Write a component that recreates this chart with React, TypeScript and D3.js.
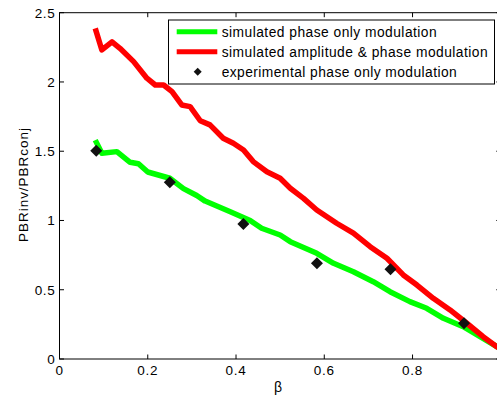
import React from "react";
import * as d3 from "d3";

const simPhaseX = [0.081, 0.096, 0.13, 0.16, 0.179, 0.2, 0.25, 0.281, 0.311, 0.33, 0.387, 0.432, 0.458, 0.5, 0.523, 0.583, 0.621, 0.666, 0.711, 0.749, 0.794, 0.832, 0.87, 0.915, 0.953, 0.991, 1.0];
const simPhaseY = [1.58, 1.485, 1.497, 1.42, 1.41, 1.35, 1.305, 1.23, 1.18, 1.14, 1.063, 1.0, 0.944, 0.895, 0.847, 0.763, 0.691, 0.63, 0.558, 0.486, 0.414, 0.366, 0.294, 0.233, 0.161, 0.089, 0.075];

const simAmpX = [0.081, 0.096, 0.119, 0.137, 0.168, 0.198, 0.217, 0.236, 0.255, 0.277, 0.296, 0.319, 0.341, 0.371, 0.394, 0.417, 0.439, 0.47, 0.5, 0.523, 0.553, 0.583, 0.628, 0.666, 0.704, 0.742, 0.779, 0.81, 0.847, 0.885, 0.923, 0.96, 0.991, 1.0];
const simAmpY = [2.387, 2.231, 2.29, 2.243, 2.147, 2.027, 1.978, 1.978, 1.93, 1.834, 1.822, 1.72, 1.69, 1.594, 1.557, 1.509, 1.425, 1.352, 1.305, 1.233, 1.16, 1.076, 0.98, 0.908, 0.811, 0.727, 0.607, 0.534, 0.438, 0.354, 0.258, 0.161, 0.089, 0.07];

const expX = [1 / 12, 3 / 12, 5 / 12, 7 / 12, 9 / 12, 11 / 12];
const expY = [1.504, 1.276, 0.975, 0.691, 0.648, 0.258];

const xTicks = [0, 0.2, 0.4, 0.6, 0.8, 1];
const yTicks = [0, 0.5, 1, 1.5, 2, 2.5];

const legendLabels = [
  "simulated phase only modulation",
  "simulated amplitude & phase modulation",
  "experimental phase only modulation",
];
const legendWidths = [215, 266, 235];

const W = 497;
const H = 398;
const L = 59.5;
const R = 500.8;
const T = 12.7;
const B = 359;

export default function App() {
  const x = d3.scaleLinear().domain([0, 1]).range([L, R]);
  const y = d3.scaleLinear().domain([0, 2.5]).range([B, T]);
  const line = d3
    .line<[number, number]>()
    .x((d) => x(d[0]))
    .y((d) => y(d[1]));
  const green = line(simPhaseX.map((v, i) => [v, simPhaseY[i]] as [number, number]))!;
  const red = line(simAmpX.map((v, i) => [v, simAmpY[i]] as [number, number]))!;
  const font = "'Liberation Sans', Arial, sans-serif";
  const diamond = (cx: number, cy: number, r: number) =>
    `M${cx},${cy - r}L${cx + r},${cy}L${cx},${cy + r}L${cx - r},${cy}Z`;
  const fmt = (v: number) => String(v);
  const tl = 4.5;
  return (
    <svg
      width={W}
      height={H}
      style={{ position: "absolute", left: 0, top: 0, background: "#fff" }}
      fontFamily={font}
    >
      <rect x={0} y={0} width={W} height={H} fill="#fff" />
      <path d={green} fill="none" stroke="#00ff00" strokeWidth={5.5} strokeLinejoin="round" />
      <path d={red} fill="none" stroke="#ff0000" strokeWidth={5.5} strokeLinejoin="round" />
      {expX.map((v, i) => (
        <path key={i} d={diamond(x(v), y(expY[i]), 6)} fill="#111" />
      ))}
      <rect x={L} y={T} width={R - L} height={B - T} fill="none" stroke="#000" strokeWidth={1} />
      {xTicks.map((t) => (
        <g key={"x" + t}>
          <line x1={x(t)} x2={x(t)} y1={B} y2={B - tl} stroke="#000" />
          <line x1={x(t)} x2={x(t)} y1={T} y2={T + tl} stroke="#000" />
          <text x={x(t)} y={B + 16.3} fontSize={13.5} letterSpacing={0.7} textAnchor="middle" fill="#000">
            {fmt(t)}
          </text>
        </g>
      ))}
      {yTicks.map((t) => (
        <g key={"y" + t}>
          <line x1={L} x2={L + tl} y1={y(t)} y2={y(t)} stroke="#000" />
          <line x1={R} x2={R - tl} y1={y(t)} y2={y(t)} stroke="#000" />
          <text x={L - 4} y={y(t) + 4.8} fontSize={13.5} letterSpacing={0.7} textAnchor="end" fill="#000">
            {fmt(t)}
          </text>
        </g>
      ))}
      <text x={278} y={392} fontSize={14} textAnchor="middle" fill="#000">
        β
      </text>
      <text
        transform={`translate(28,185) rotate(-90)`}
        fontSize={13.5}
        textAnchor="middle"
        textLength={114}
        lengthAdjust="spacing"
        fill="#000"
      >
        PBRinv/PBRconj
      </text>
      <rect x={168.5} y={20} width={326} height={64} fill="#fff" stroke="#000" strokeWidth={1} />
      <line x1={176.7} x2={217.3} y1={31.7} y2={31.7} stroke="#00ff00" strokeWidth={5} />
      <line x1={176.7} x2={217.3} y1={51.7} y2={51.7} stroke="#ff0000" strokeWidth={5} />
      <path d={diamond(197.7, 71.7, 4)} fill="#111" />
      {legendLabels.map((s, i) => (
        <text
          key={s}
          x={221.7}
          y={36.6 + i * 20}
          fontSize={13.8}
          textLength={legendWidths[i]}
          lengthAdjust="spacing"
          fill="#000"
        >
          {s}
        </text>
      ))}
    </svg>
  );
}
